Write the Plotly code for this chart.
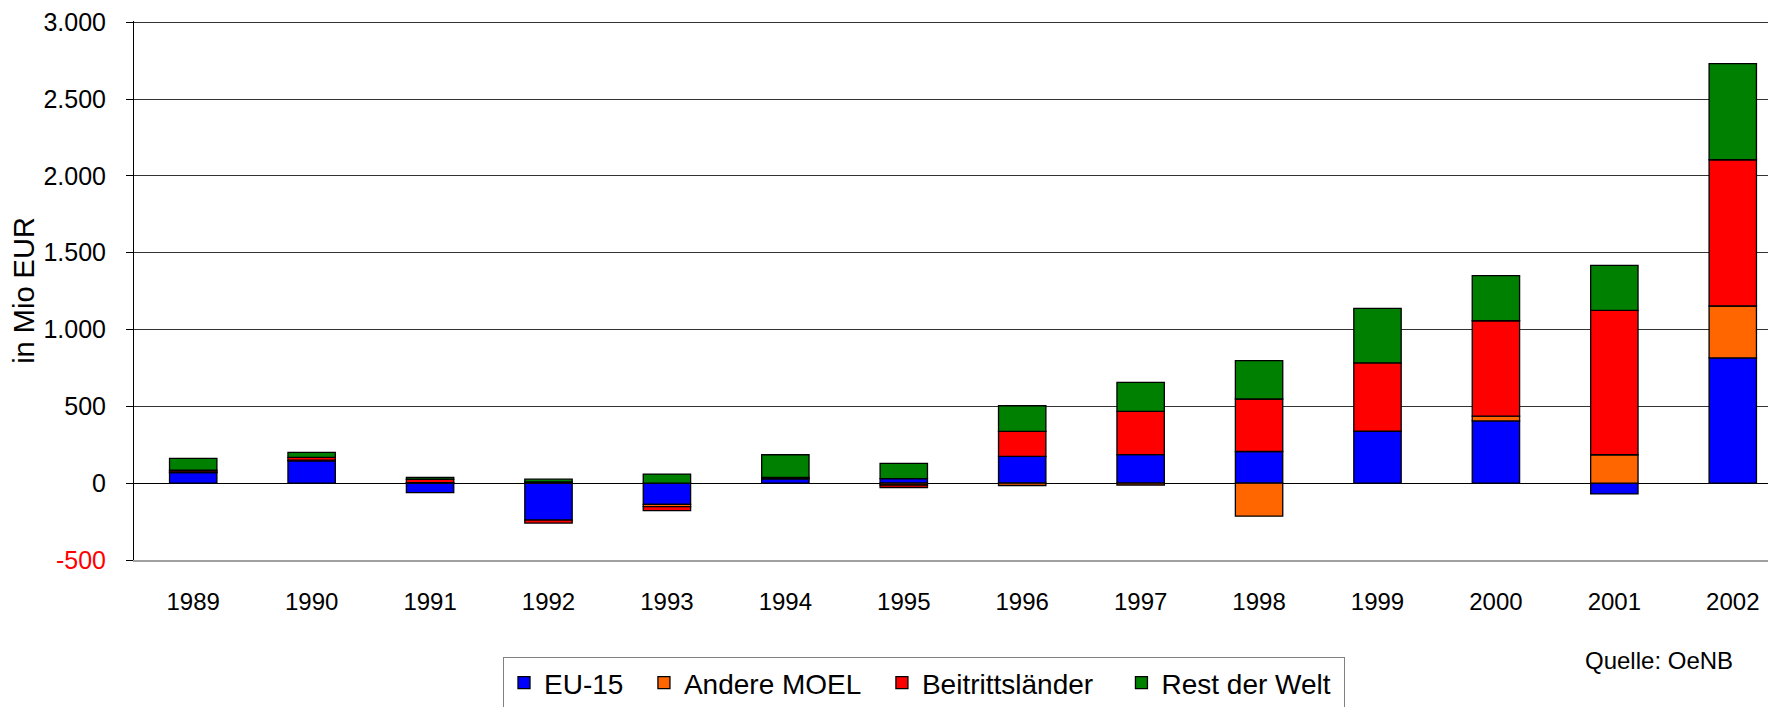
import plotly.graph_objects as go

years = ["1989", "1990", "1991", "1992", "1993", "1994", "1995",
         "1996", "1997", "1998", "1999", "2000", "2001", "2002"]
eu15 = [69, 145, -61, -240, -138, 28, 30, 175, 186, 206, 338, 405, -70, 815]
andere_moel = [5, 5, 3, 8, -14, 4, -12, -15, -12, -215, 0, 31, 185, 338]
beitritt = [10, 18, 22, -20, -26, 6, -16, 162, 281, 342, 445, 621, 940, 952]
rest_welt = [77, 32, 12, 18, 59, 147, 99, 167, 189, 250, 355, 294, 293, 625]

series_names = ["EU-15", "Andere MOEL", "Beitrittsländer", "Rest der Welt"]
series_colors = ["#0000FF", "#FF6600", "#FF0000", "#008000"]
series_values = [eu15, andere_moel, beitritt, rest_welt]
# trailing no-break spaces widen the gaps between legend entries
legend_pad = ["\u00a0\u00a0", "\u00a0\u00a0", "\u00a0\u00a0\u00a0", "\u00a0"]

y_tickvals = [-500, 0, 500, 1000, 1500, 2000, 2500, 3000]
y_ticktext = ['<span style="color:#FF0000">-500</span>', "0", "500", "1.000",
              "1.500", "2.000", "2.500", "3.000"]
boundary_ticks = [i + 0.5 for i in range(13)]
y_range = [-500, 3008]   # small headroom so the 3.000 gridline is drawn

FONT = "Liberation Sans, Arial, sans-serif"

fig = go.Figure()
for name, color, vals, pad in zip(series_names, series_colors, series_values, legend_pad):
    fig.add_trace(go.Bar(
        x=years, y=vals, name=name + pad,
        marker=dict(color=color, line=dict(color="black", width=1.3)),
    ))

x_range = [-0.5, 13.365]

# plot area on screen: x 134..1776, y 21..560 (page body has an 8px margin)
PLOT_BOTTOM, PLOT_H = 560, 539


def py(screen_y):
    return (PLOT_BOTTOM - screen_y) / PLOT_H


fig.update_layout(
    width=1768, height=699,
    barmode="relative",
    bargap=0.6,
    plot_bgcolor="white",
    paper_bgcolor="white",
    margin=dict(l=126, r=0, t=13, b=147, autoexpand=False),
    showlegend=True,
    legend=dict(
        orientation="h",
        x=(503 - 134) / 1642, y=py(657), xanchor="left", yanchor="top",
        font=dict(family=FONT, size=28, color="black"),
        bordercolor="#808080", borderwidth=1,
        traceorder="normal",
    ),
    xaxis=dict(
        type="category",
        range=x_range,
        showgrid=False,
        showline=True, linecolor="#A0A0A0", linewidth=2,
        ticks="",
        tickfont=dict(family=FONT, size=24, color="black"),
        ticklabelstandoff=19,
        zeroline=False,
    ),
    xaxis2=dict(
        type="linear",
        overlaying="x",
        anchor="free",
        position=(0 - y_range[0]) / (y_range[1] - y_range[0]),
        range=x_range,
        tickmode="array",
        tickvals=boundary_ticks,
        ticks="outside", ticklen=9, tickcolor="#555555", tickwidth=1,
        showticklabels=False,
        showgrid=False, showline=False, zeroline=False,
    ),
    yaxis=dict(
        range=y_range,
        tickmode="array",
        tickvals=y_tickvals,
        ticktext=y_ticktext,
        tickfont=dict(family=FONT, size=25, color="black"),
        ticklabeloverflow="allow",
        ticks="outside", ticklen=7, tickcolor="black", tickwidth=1,
        ticklabelstandoff=15,
        showline=True, linecolor="black", linewidth=1,
        showgrid=True, gridcolor="#333333", gridwidth=1,
        zeroline=True, zerolinecolor="black", zerolinewidth=1,
        title=dict(text="in Mio EUR", font=dict(family=FONT, size=29, color="black"), standoff=0),
    ),
    annotations=[dict(
        text="Quelle: OeNB", xref="paper", yref="paper",
        x=(1735 - 134) / 1642, y=py(660),
        xanchor="right", yanchor="middle", showarrow=False,
        font=dict(family=FONT, size=24, color="black"),
    )],
)

fig.write_html("out.html")
